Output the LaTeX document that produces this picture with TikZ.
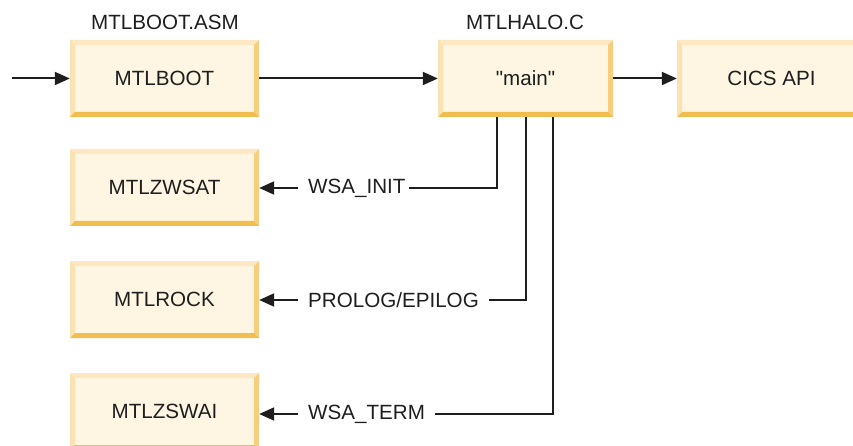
\documentclass[tikz,border=0pt]{standalone}
\usepackage{fontspec}
\setmainfont{Liberation Sans}
\newfontfamily\rawfont{Liberation Sans}
\usetikzlibrary{arrows.meta,calc}
\definecolor{boxfill}{HTML}{FEF6E2}
\definecolor{bevtop}{HTML}{FDE8C2}
\definecolor{bevleft}{HTML}{FBE2B2}
\definecolor{bevright}{HTML}{F6CF7E}
\definecolor{bevbot}{HTML}{F0BE4E}
\definecolor{ink}{HTML}{1E1E1E}
\tikzset{
  bevbox/.style={minimum width=189pt, minimum height=77pt, inner sep=0pt, fill=boxfill,
    font=\fontsize{20.6pt}{24pt}\selectfont, text=ink,
    path picture={
      \coordinate (nw) at (path picture bounding box.north west);
      \coordinate (ne) at (path picture bounding box.north east);
      \coordinate (sw) at (path picture bounding box.south west);
      \coordinate (se) at (path picture bounding box.south east);
      \fill[bevtop] (nw) -- (ne) -- ([shift={(-5pt,-5pt)}]ne) -- ([shift={(5pt,-5pt)}]nw) -- cycle;
      \fill[bevleft] (nw) -- ([shift={(5pt,-5pt)}]nw) -- ([shift={(5pt,5pt)}]sw) -- (sw) -- cycle;
      \fill[bevright] (ne) -- (se) -- ([shift={(-5pt,5pt)}]se) -- ([shift={(-5pt,-5pt)}]ne) -- cycle;
      \fill[bevbot] (sw) -- (se) -- ([shift={(-5pt,5pt)}]se) -- ([shift={(5pt,5pt)}]sw) -- cycle;
    }},
  lbl/.style={inner sep=0pt, font=\fontsize{20.6pt}{24pt}\selectfont, text=ink},
  conn/.style={draw=ink, line width=2pt},
  arr/.style={conn, -{Triangle[length=15pt,width=13pt]}}
}
\begin{document}
\begin{tikzpicture}[x=1pt,y=-1pt]
\useasboundingbox (0,0) rectangle (853,446);
\clip (0,0) rectangle (853,446);
\node[bevbox] (boot) at (164.5,78.5) {MTLBOOT};
\node[bevbox, minimum width=175pt] (main) at (525.5,78.5) {{\rawfont "main"}};
\node[bevbox] (cics) at (771.5,78.5) {CICS API};
\node[bevbox] (zwsat) at (164.5,187.5) {MTLZWSAT};
\node[bevbox] (rock) at (164.5,299.5) {MTLROCK};
\node[bevbox] (zswai) at (164.5,411.5) {MTLZSWAI};
\node[lbl] (bootfile) at (165,22) {MTLBOOT.ASM};
\node[lbl] (halofile) at (525,22) {MTLHALO.C};
\coordinate (entry) at (12,78.5);
\draw[arr] (entry) -- (boot.west);
\draw[arr] (boot.east) -- (main.west);
\draw[arr] (main.east) -- (cics.west);
\node[lbl, anchor=west] (l1) at (308,188) {WSA\_INIT};
\node[lbl, anchor=west] (l2) at (308,300) {PROLOG/EPILOG};
\node[lbl, anchor=west] (l3) at (308,414) {WSA\_TERM};
\draw[arr] ([xshift=-10pt]l1.west) -- (zwsat.east |- l1.west);
\draw[arr] ([xshift=-10pt]l2.west) -- (rock.east |- l2.west);
\draw[arr] ([xshift=-10pt]l3.west) -- (zswai.east |- l3.west);
\draw[conn] ([xshift=3pt]l1.east) -| ([xshift=-28.5pt]main.south);
\draw[conn] ([xshift=10pt]l2.east) -| (main.south);
\draw[conn] ([xshift=10pt]l3.east) -| ([xshift=27.5pt]main.south);
\end{tikzpicture}
\end{document}
